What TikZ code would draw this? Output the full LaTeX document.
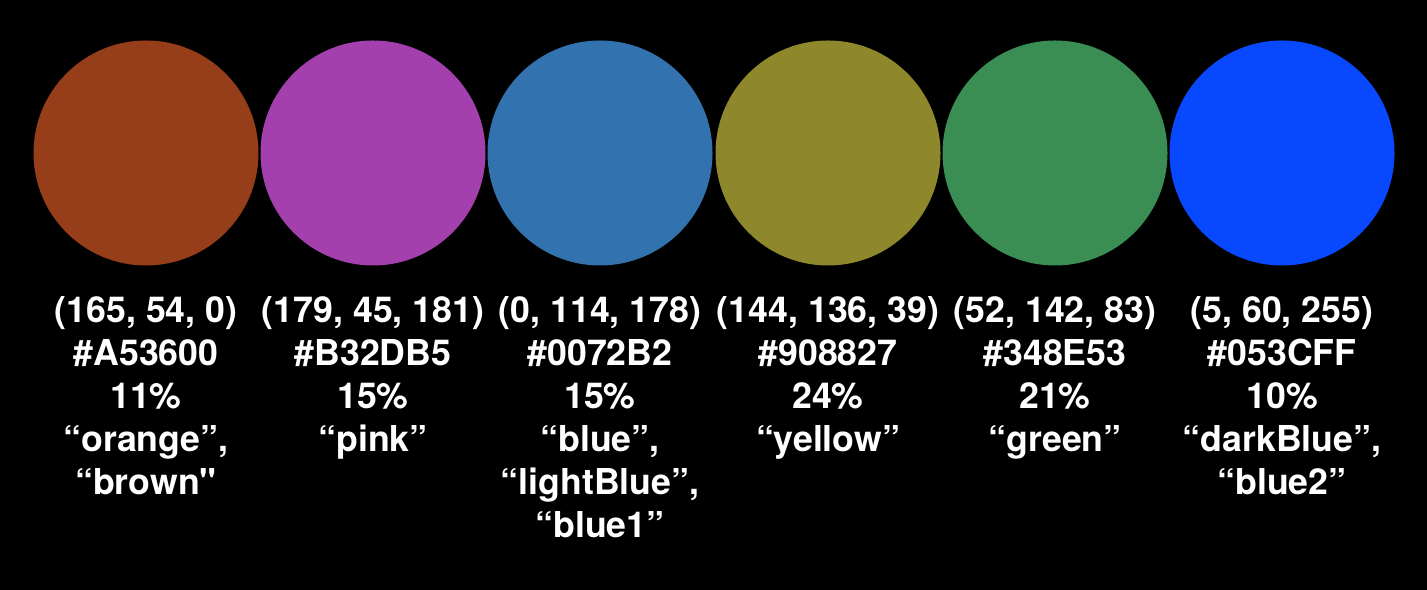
\documentclass[tikz,border=0pt]{standalone}
\usepackage{fontspec}
\setmainfont{TeX Gyre Heros}
\newfontfamily\plainq{TeX Gyre Heros}
\definecolor{ORA}{RGB}{150,61,26}
\definecolor{PNK}{RGB}{163,64,174}
\definecolor{BLU}{RGB}{50,114,174}
\definecolor{YLW}{RGB}{143,135,43}
\definecolor{GRN}{RGB}{58,142,84}
\definecolor{DBL}{RGB}{8,72,255}

\tikzset{
  swatch/.style={circle,minimum size=45mm,inner sep=0pt},
  info/.style={anchor=north,align=center,text=white,inner sep=0pt,
               font=\bfseries\fontsize{20.3}{24.5}\selectfont}
}

\begin{document}
\begin{tikzpicture}[x=0.2mm,y=0.2mm]
            \fill[black] (0,0) rectangle (1427,590);
            \useasboundingbox (0,0) rectangle (1427,590);

            \node[swatch,fill=ORA] (orange) at (146,437) {};
            \node[swatch,fill=PNK] (pink) at (373,437) {};
            \node[swatch,fill=BLU] (blue) at (600,437) {};
            \node[swatch,fill=YLW] (yellow) at (828,437) {};
            \node[swatch,fill=GRN] (green) at (1055,437) {};
            \node[swatch,fill=DBL] (darkblue) at (1282,437) {};

            %\node[info] at (orange.south) {};
            \node[info] (orangetxt) at (146,294) {(165, 54, 0)\\ \#A53600\\ 11\%\\ “orange”,\\ “brown{\plainq\symbol{"22}}};
            \node[info] (pinktxt) at (373,294) {(179, 45, 181)\\ \#B32DB5\\ 15\%\\ “pink”};
            \node[info] (bluetxt) at (600,294) {(0, 114, 178)\\ \#0072B2\\ 15\%\\ “blue”,\\ “lightBlue”,\\ “blue1”};
            \node[info] (yellowtxt) at (828,294) {(144, 136, 39)\\ \#908827\\ 24\%\\ “yellow”};
            \node[info] (greentxt) at (1055,294) {(52, 142, 83)\\ \#348E53\\ 21\%\\ “green”};
            \node[info] (darkbluetxt) at (1282,294) {(5, 60, 255)\\ \#053CFF\\ 10\%\\ “darkBlue”,\\ “blue2”};
        \end{tikzpicture}
\end{document}
